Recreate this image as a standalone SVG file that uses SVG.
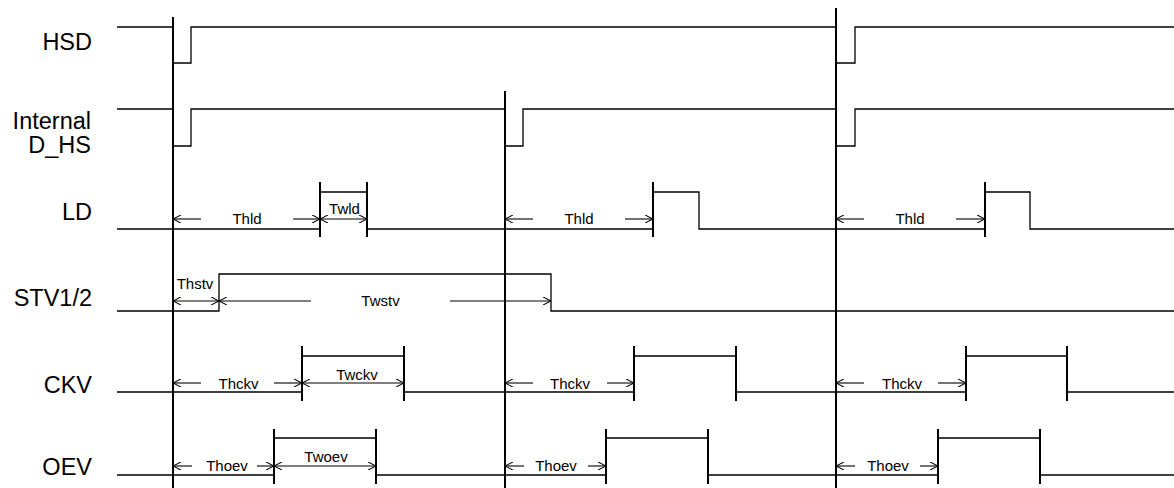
<svg xmlns="http://www.w3.org/2000/svg" width="1174" height="488" viewBox="0 0 1174 488">
<style>
.bg{fill:#fff}
.sig{fill:none;stroke:#000;stroke-width:1.3}
.ref{fill:none;stroke:#000;stroke-width:2}
.tick{fill:none;stroke:#000;stroke-width:2}
.dim{fill:none;stroke:#000;stroke-width:1.1}
.lbl{font-family:"Liberation Sans",Arial,sans-serif;font-size:23.5px;fill:#000;text-anchor:end}
.t{font-family:"Liberation Sans",Arial,sans-serif;font-size:15px;fill:#000;text-anchor:middle}
</style>
<defs>
<marker id="ah" viewBox="0 0 8 8" refX="8" refY="4" markerWidth="8" markerHeight="8" markerUnits="userSpaceOnUse" orient="auto-start-reverse">
<path d="M0,0 L8,4 L0,8" fill="none" stroke="#000" stroke-width="1.1"/>
</marker>
</defs>
<rect class="bg" x="0" y="0" width="1174" height="488"/>

<g id="reference-lines">
<line class="ref" x1="173" y1="17" x2="173" y2="488"/>
<line class="ref" x1="505" y1="91" x2="505" y2="488"/>
<line class="ref" x1="836" y1="8" x2="836" y2="488"/>
</g>

<g id="HSD">
<text class="lbl" x="92" y="50">HSD</text>
<path class="sig" d="M117,27 H173 V63 H191 V27 H836 V63 H855 V27 H1174"/>
</g>

<g id="Internal_D_HS">
<text class="lbl" x="91" y="129">Internal</text>
<text class="lbl" x="91" y="153">D_HS</text>
<path class="sig" d="M117,109 H173 V146 H191 V109 H505 V146 H523 V109 H836 V146 H855 V109 H1174"/>
</g>

<g id="LD">
<text class="lbl" x="92" y="220">LD</text>
<path class="sig" d="M117,229 H320 V192 H367 V229 H653 V192 H699 V229 H985 V192 H1030 V229 H1174"/>
<path class="tick" d="M320,182 V237 M367,182 V237 M653,182 V237 M985,182 V237"/>
</g>

<g id="STV1_2">
<text class="lbl" x="92" y="306">STV1/2</text>
<path class="sig" d="M117,311 H219 V274 H551 V311 H1174"/>
</g>

<g id="CKV">
<text class="lbl" x="92" y="393">CKV</text>
<path class="sig" d="M117,392 H302 V356 H404 V392 H634 V356 H736 V392 H966 V356 H1067 V392 H1174"/>
<path class="tick" d="M302,346 V401 M404,346 V401 M634,346 V401 M736,346 V401 M966,346 V401 M1067,346 V401"/>
</g>

<g id="OEV">
<text class="lbl" x="92" y="475">OEV</text>
<path class="sig" d="M117,475 H274 V438 H376 V475 H606 V438 H708 V475 H938 V438 H1040 V475 H1174"/>
<path class="tick" d="M274,429 V484 M376,429 V484 M606,429 V484 M708,429 V484 M938,429 V484 M1040,429 V484"/>
</g>

<g id="connectors">
<line class="dim" x1="201" y1="219" x2="173" y2="219" marker-end="url(#ah)"/>
<line class="dim" x1="293" y1="219" x2="320" y2="219" marker-end="url(#ah)"/>
<text class="t" x="247" y="224">Thld</text>
<line class="dim" x1="320" y1="219" x2="367" y2="219" marker-start="url(#ah)" marker-end="url(#ah)"/>
<text class="t" x="344.5" y="214">Twld</text>
<line class="dim" x1="533" y1="219" x2="505" y2="219" marker-end="url(#ah)"/>
<line class="dim" x1="625" y1="219" x2="653" y2="219" marker-end="url(#ah)"/>
<text class="t" x="579" y="224">Thld</text>
<line class="dim" x1="864" y1="219" x2="836" y2="219" marker-end="url(#ah)"/>
<line class="dim" x1="956" y1="219" x2="985" y2="219" marker-end="url(#ah)"/>
<text class="t" x="910" y="224">Thld</text>
<line class="dim" x1="173" y1="301" x2="219" y2="301" marker-start="url(#ah)" marker-end="url(#ah)"/>
<text class="t" x="195" y="289">Thstv</text>
<line class="dim" x1="311" y1="301" x2="219" y2="301" marker-end="url(#ah)"/>
<line class="dim" x1="450" y1="301" x2="551" y2="301" marker-end="url(#ah)"/>
<text class="t" x="380.5" y="306">Twstv</text>
<line class="dim" x1="201" y1="383" x2="173" y2="383" marker-end="url(#ah)"/>
<line class="dim" x1="274" y1="383" x2="302" y2="383" marker-end="url(#ah)"/>
<text class="t" x="238.5" y="389">Thckv</text>
<line class="dim" x1="302" y1="383" x2="404" y2="383" marker-start="url(#ah)" marker-end="url(#ah)"/>
<text class="t" x="357" y="380">Twckv</text>
<line class="dim" x1="533" y1="383" x2="505" y2="383" marker-end="url(#ah)"/>
<line class="dim" x1="607" y1="383" x2="634" y2="383" marker-end="url(#ah)"/>
<text class="t" x="570" y="389">Thckv</text>
<line class="dim" x1="864" y1="383" x2="836" y2="383" marker-end="url(#ah)"/>
<line class="dim" x1="938" y1="383" x2="966" y2="383" marker-end="url(#ah)"/>
<text class="t" x="902" y="389">Thckv</text>
<line class="dim" x1="192" y1="466" x2="173" y2="466" marker-end="url(#ah)"/>
<line class="dim" x1="257" y1="466" x2="274" y2="466" marker-end="url(#ah)"/>
<text class="t" x="227" y="471">Thoev</text>
<line class="dim" x1="274" y1="466" x2="376" y2="466" marker-start="url(#ah)" marker-end="url(#ah)"/>
<text class="t" x="326" y="462">Twoev</text>
<line class="dim" x1="524" y1="466" x2="505" y2="466" marker-end="url(#ah)"/>
<line class="dim" x1="588" y1="466" x2="606" y2="466" marker-end="url(#ah)"/>
<text class="t" x="556" y="471">Thoev</text>
<line class="dim" x1="855" y1="466" x2="836" y2="466" marker-end="url(#ah)"/>
<line class="dim" x1="920" y1="466" x2="938" y2="466" marker-end="url(#ah)"/>
<text class="t" x="888" y="471">Thoev</text>
</g>
</svg>
